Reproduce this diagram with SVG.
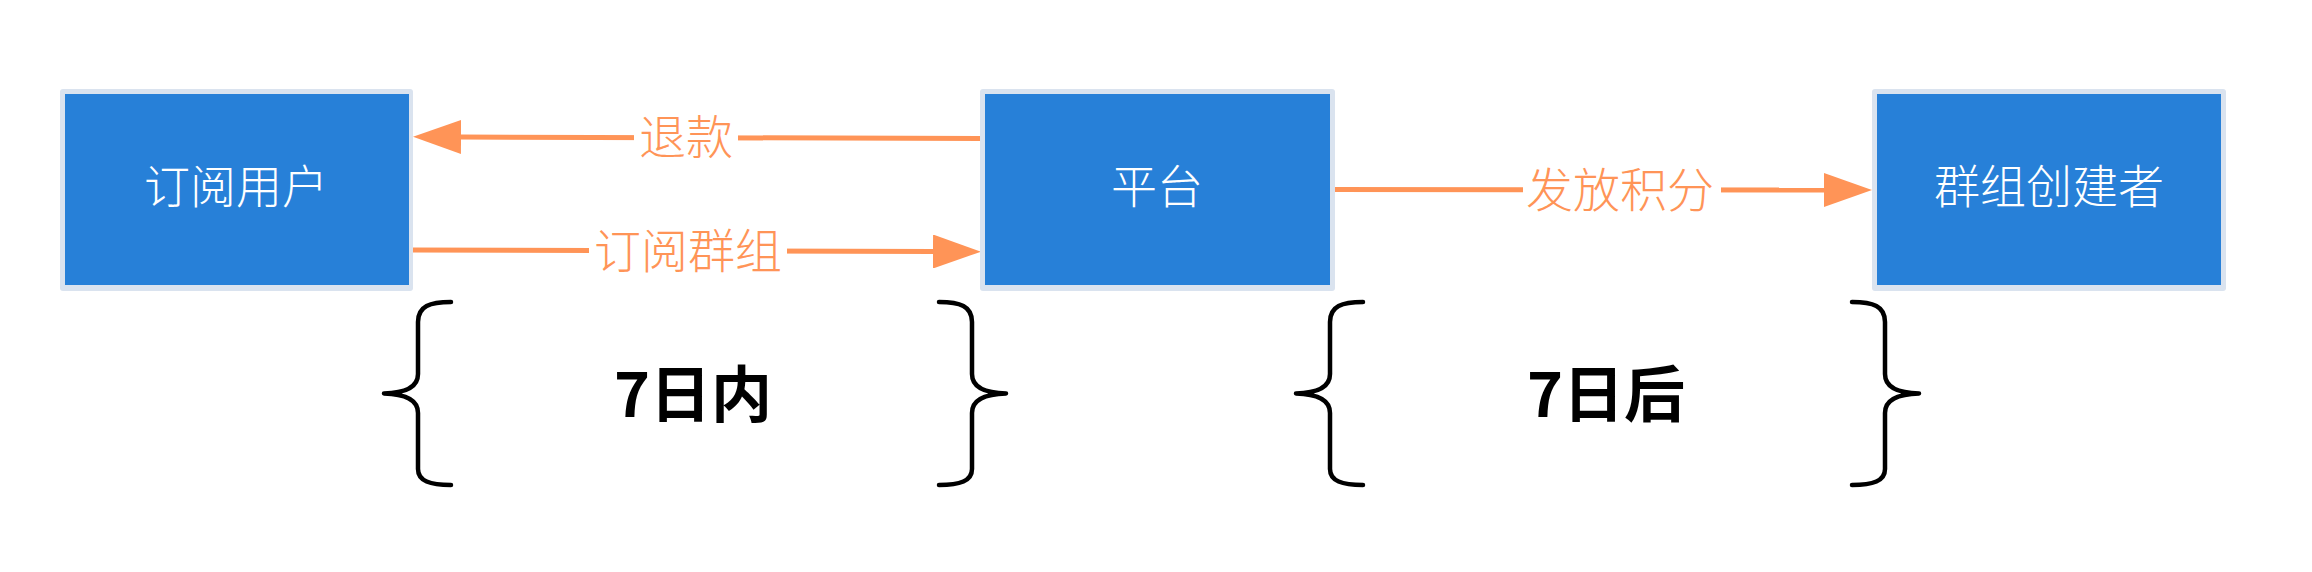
<svg xmlns="http://www.w3.org/2000/svg" width="2312" height="572" viewBox="0 0 2312 572">
  <style>
    .frame { fill: #DAE3EF; }
    .box { fill: #2780D8; }
    .ntext { font-family: "Noto Sans CJK SC", "Noto Sans", sans-serif; font-size: 46px; font-weight: 300; fill: #FFFFFF; text-anchor: middle; }
    .line { stroke: #FF9457; stroke-width: 5; fill: none; }
    .lbg { fill: #FFFFFF; }
    .ltext { font-family: "Noto Sans CJK SC", "Noto Sans", sans-serif; font-size: 47px; font-weight: 300; fill: #FF9457; text-anchor: middle; }
    .brace { stroke: #000000; stroke-width: 4.5; fill: none; stroke-linecap: round; stroke-linejoin: round; }
    .btext { font-family: "Noto Sans CJK SC", "Noto Sans", sans-serif; font-size: 61px; font-weight: bold; fill: #000000; text-anchor: middle; }
  </style>
  <defs>
    <marker id="arrow" markerUnits="userSpaceOnUse" viewBox="0 0 48 34" refX="0" refY="17" markerWidth="48" markerHeight="34" orient="auto">
      <path d="M0,0 L48,17 L0,34 Z" fill="#FF9457"/>
    </marker>
    <path id="brace" d="M451,302 C430,302 418,306 418,322 L418,374 C418,388 404,393 384,393.5 C404,394 418,399 418,413 L418,469 C418,481 430,485 451,485"/>
  </defs>
  <rect width="2312" height="572" fill="#FFFFFF"/>

  <g id="connectors">
    <g id="edge-refund">
      <path class="line" d="M980,138.5 L461,137" marker-end="url(#arrow)"/>
      <rect class="lbg" x="634" y="112" width="104" height="50"/>
      <text class="ltext" x="686" y="154">退款</text>
    </g>
    <g id="edge-subscribe">
      <path class="line" d="M413,250 L933,251.5" marker-end="url(#arrow)"/>
      <rect class="lbg" x="589" y="225" width="198" height="50"/>
      <text class="ltext" x="688" y="268">订阅群组</text>
    </g>
    <g id="edge-points">
      <path class="line" d="M1335,189.5 L1824,190" marker-end="url(#arrow)"/>
      <rect class="lbg" x="1523" y="165" width="198" height="50"/>
      <text class="ltext" x="1620" y="207">发放积分</text>
    </g>
  </g>

  <g id="node-user">
    <rect class="frame" x="60" y="89" width="353" height="202" rx="3"/>
    <rect class="box" x="65" y="94" width="344" height="191"/>
    <text class="ntext" x="236" y="203">订阅用户</text>
  </g>
  <g id="node-platform">
    <rect class="frame" x="980" y="89" width="355" height="202" rx="3"/>
    <rect class="box" x="985" y="94" width="345" height="191"/>
    <text class="ntext" x="1157" y="203">平台</text>
  </g>
  <g id="node-creator">
    <rect class="frame" x="1872" y="89" width="354" height="202" rx="3"/>
    <rect class="box" x="1877" y="94" width="344" height="191"/>
    <text class="ntext" x="2049" y="203">群组创建者</text>
  </g>

  <g id="period-within">
    <use href="#brace" class="brace"/>
    <use href="#brace" class="brace" transform="translate(1390,0) scale(-1,1)"/>
    <text class="btext" x="693" y="417">7日内</text>
  </g>
  <g id="period-after">
    <use href="#brace" class="brace" transform="translate(912,0)"/>
    <use href="#brace" class="brace" transform="translate(2303,0) scale(-1,1)"/>
    <text class="btext" x="1606" y="417">7日后</text>
  </g>
</svg>
